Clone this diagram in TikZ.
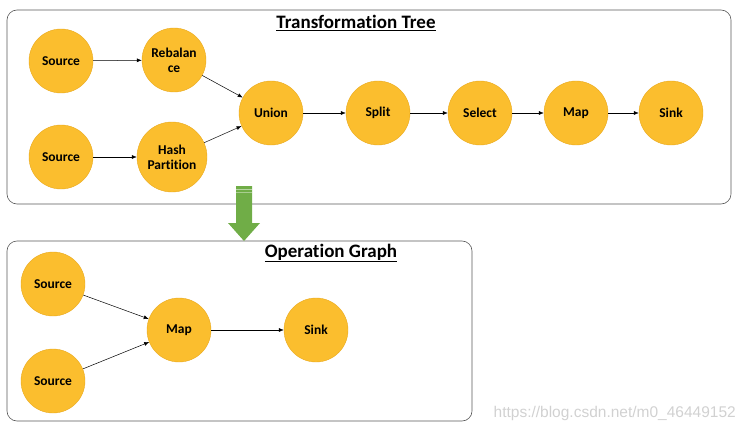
\documentclass[tikz,border=0pt]{standalone}
\usepackage{fontspec}
\setmainfont{Carlito}[RawFeature=-liga]
\newfontfamily\wmfont{Liberation Sans}
\usetikzlibrary{arrows.meta}
\definecolor{gold}{HTML}{FBBE2E}
\definecolor{goldline}{HTML}{E9A91E}
\definecolor{arrowgreen}{HTML}{70AD47}
\definecolor{frame}{HTML}{595959}
\begin{document}
\begin{tikzpicture}[x=1pt,y=-1pt,
  op/.style={circle,fill=gold,draw=goldline,line width=0.4pt,minimum size=64pt,inner sep=0pt,align=center,font=\bfseries\fontsize{13.5}{15}\selectfont},
  bigop/.style={op,minimum size=70pt},
  flow/.style={-{Latex[length=5pt,width=4pt]},line width=0.5pt},
  panel/.style={draw=frame,rounded corners=10pt,line width=0.6pt},
  ttl/.style={font=\bfseries\fontsize{19}{21}\selectfont}]
\useasboundingbox (0,0) rectangle (746,433);
% panels
\draw[panel] (7,10) rectangle (731,204);
\draw[panel] (7,241) rectangle (472,421);
\node[ttl] (t1) at (356,23) {\underline{Transformation Tree}};
\node[ttl] (t2) at (331,253) {\underline{Operation Graph}};
% top nodes
\node[op] (s1) at (61,61) {Source};
\node[op] (rb) at (174,60) {Rebalan\\ce};
\node[op] (s2) at (61,157) {Source};
\node[bigop] (hp) at (172,157) {Hash\\Partition};
\node[op] (un) at (271,113) {Union};
\node[op] (sp) at (378,113) {Split};
\node[op] (se) at (480,113) {Select};
\node[op] (mp) at (576,113) {Map};
\node[op] (sk) at (671,113) {Sink};
\draw[flow] (s1) -- (rb);
\draw[flow] (s2) -- (hp);
\draw[flow] (rb) -- (un);
\draw[flow] (hp) -- (un);
\draw[flow] (un) -- (sp);
\draw[flow] (sp) -- (se);
\draw[flow] (se) -- (mp);
\draw[flow] (mp) -- (sk);
% green arrow
\fill[arrowgreen] (236,186) -- (252,186) -- (252,223) -- (260,223) -- (244,241) -- (228,223) -- (236,223) -- cycle;
\draw[white,opacity=0.5,line width=0.6pt] (236,189) -- (252,189);
\draw[white,opacity=0.4,line width=0.6pt] (236,192) -- (252,192);
% bottom nodes
\node[op] (bs1) at (53,284) {Source};
\node[op] (bs2) at (53,381) {Source};
\node[op] (bm) at (179,330) {Map};
\node[op] (bk) at (316,330) {Sink};
\draw[flow] (bs1) -- (bm);
\draw[flow] (bs2) -- (bm);
\draw[flow] (bm) -- (bk);
% watermark
\node[text=black!18,font=\wmfont\fontsize{15.5}{17}\selectfont,anchor=east,inner sep=0pt] (wm) at (736,413) {https://blog.csdn.net/m0\_46449152};
\end{tikzpicture}
\end{document}
